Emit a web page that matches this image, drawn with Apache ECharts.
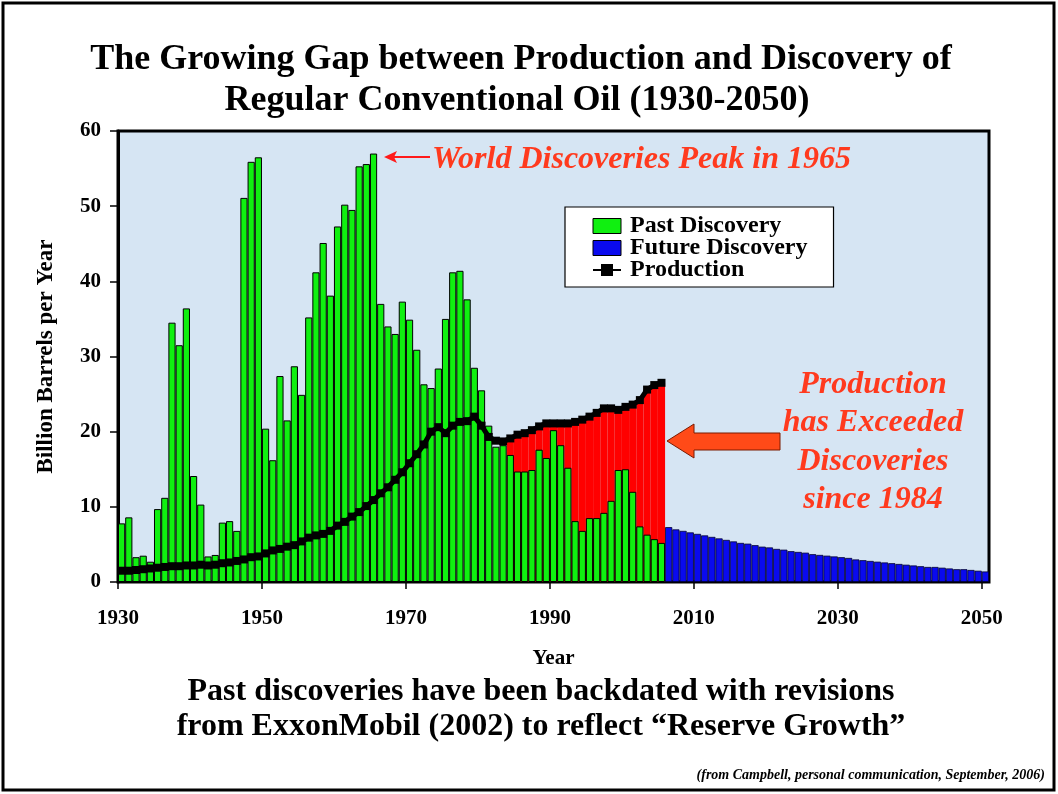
<!DOCTYPE html>
<html>
<head>
<meta charset="utf-8">
<script src="https://cdn.jsdelivr.net/npm/echarts@6/dist/echarts.min.js"></script>
<style>
html,body{margin:0;padding:0;background:#fff;}
#chart{width:1058px;height:794px;}
</style>
</head>
<body>
<div id="chart"></div>
<script>
// ---- DATA ----
var firstYear = 1930, lastYear = 2050;
var years = [];
for (var y = firstYear; y <= lastYear; y++) years.push(String(y));

// Past discovery 1930-2005 (billion barrels / year)
var pastDiscovery = [
  7.8, 8.6, 3.3, 3.5, 2.7, 9.7, 11.2, 34.5, 31.5, 36.4,      // 1930-1939
  14.1, 10.3, 3.4, 3.6, 7.9, 8.1, 6.8, 51.1, 55.9, 56.5,     // 1940-1949
  20.4, 16.2, 27.4, 21.5, 28.7, 24.9, 35.2, 41.2, 45.1, 38.1, // 1950-1959
  47.3, 50.2, 49.5, 55.3, 55.6, 57.0, 37.0, 34.0, 33.0, 37.3, // 1960-1969
  34.9, 30.9, 26.3, 25.8, 28.4, 35.0, 41.2, 41.4, 37.6, 28.5, // 1970-1979
  25.5, 20.8, 18.0, 18.2, 16.9, 14.7, 14.7, 14.9, 17.6, 16.5, // 1980-1989
  20.2, 18.2, 15.2, 8.1, 6.8, 8.5, 8.5, 9.2, 10.8, 14.9,      // 1990-1999
  15.0, 12.0, 7.4, 6.3, 5.7, 5.2                              // 2000-2005
];
// Future discovery 2006-2050
var futureDiscovery = [
  7.3, 7.0, 6.8, 6.6,                                         // 2006-2009
  6.4, 6.2, 6.0, 5.8, 5.6, 5.4, 5.2, 5.1, 4.9, 4.7,           // 2010-2019
  4.6, 4.4, 4.3, 4.1, 4.0, 3.9, 3.7, 3.6, 3.5, 3.4,           // 2020-2029
  3.3, 3.2, 3.0, 2.9, 2.8, 2.7, 2.6, 2.5, 2.4, 2.3,           // 2030-2039
  2.2, 2.1, 2.0, 2.0, 1.9, 1.8, 1.7, 1.7, 1.6, 1.5,           // 2040-2049
  1.4                                                         // 2050
];
// Production 1930-2005
var production = [
  1.5, 1.5, 1.6, 1.7, 1.8, 1.9, 2.0, 2.1, 2.1, 2.2,           // 1930-1939
  2.2, 2.3, 2.2, 2.3, 2.5, 2.6, 2.8, 3.0, 3.3, 3.4,           // 1940-1949
  3.8, 4.2, 4.4, 4.7, 4.9, 5.4, 5.9, 6.2, 6.4, 6.8,           // 1950-1959
  7.5, 8.0, 8.7, 9.3, 10.1, 10.9, 11.8, 12.6, 13.6, 14.6,     // 1960-1969
  15.8, 17.0, 18.3, 20.0, 20.6, 19.8, 20.8, 21.3, 21.4, 22.0, // 1970-1979
  20.8, 19.3, 18.8, 18.7, 19.1, 19.6, 19.8, 20.2, 20.7, 21.1, // 1980-1989
  21.1, 21.1, 21.1, 21.3, 21.6, 22.0, 22.5, 23.1, 23.1, 22.9, // 1990-1999
  23.3, 23.6, 24.2, 25.6, 26.2, 26.5                          // 2000-2005
];
var gapStartYear = 1984;  // production exceeds discoveries since
var yTicks = [0, 10, 20, 30, 40, 50, 60];
var xTickLabels = [1930, 1950, 1970, 1990, 2010, 2030, 2050];

// ---- series arrays aligned to years ----
function alignTo(startYear, arr) {
  var out = years.map(function () { return null; });
  for (var i = 0; i < arr.length; i++) out[startYear - firstYear + i] = arr[i];
  return out;
}
var pastArr = alignTo(1930, pastDiscovery);
var futureArr = alignTo(2006, futureDiscovery);
var prodArr = alignTo(1930, production);
var gapArr = prodArr.map(function (v, i) {
  return (firstYear + i >= gapStartYear) ? v : null;
});

var serif = '"Liberation Serif", "Times New Roman", serif';
var red = '#ff3a1e';

var chart = echarts.init(document.getElementById('chart'), null, {renderer: 'canvas'});
var option = {
  backgroundColor: '#ffffff',
  animation: false,
  grid: {
    left: 118, right: 69, top: 131, bottom: 212,
    show: true, backgroundColor: '#d6e5f3', borderColor: '#000', borderWidth: 3
  },
  legend: {
    orient: 'vertical', left: 565, top: 207,
    backgroundColor: '#ffffff', borderColor: '#000', borderWidth: 1.2, borderRadius: 0,
    padding: [7, 26, 5, 27],
    itemWidth: 28, itemHeight: 15, itemGap: -2,
    textStyle: {fontFamily: serif, fontWeight: 'bold', fontSize: 24, color: '#000', lineHeight: 20, padding: [0, 0, 0, 4]},
    data: [
      {name: 'Past Discovery', icon: 'rect', itemStyle: {borderColor: '#000', borderWidth: 1}},
      {name: 'Future Discovery', icon: 'rect', itemStyle: {borderColor: '#000', borderWidth: 1}},
      {name: 'Production'}
    ]
  },
  xAxis: [{
    type: 'category', data: years, boundaryGap: true,
    axisLine: {show: true, lineStyle: {color: '#000', width: 2}},
    axisTick: {show: false}, axisLabel: {show: false}, splitLine: {show: false}
  }, {
    type: 'value', min: firstYear, max: lastYear + 1, position: 'bottom',
    axisLine: {show: false},
    axisTick: {show: true, length: 7, customValues: xTickLabels, lineStyle: {color: '#000', width: 1.5}},
    axisLabel: {customValues: xTickLabels, margin: 26, fontFamily: serif, fontWeight: 'bold', fontSize: 21, color: '#000',
      formatter: function (v) { return String(v); }},
    splitLine: {show: false},
    name: 'Year', nameLocation: 'middle', nameGap: 66,
    nameTextStyle: {fontFamily: serif, fontWeight: 'bold', fontSize: 21, color: '#000'}
  }],
  yAxis: {
    type: 'value', min: 0, max: 60, interval: 10,
    axisLine: {show: true, lineStyle: {color: '#000', width: 3}},
    axisTick: {show: true, length: 8, inside: false, lineStyle: {color: '#000', width: 1.5}},
    axisLabel: {margin: 17, fontFamily: serif, fontWeight: 'bold', fontSize: 21, color: '#000',
      customValues: yTicks},
    splitLine: {show: false},
    name: 'Billion Barrels per Year', nameLocation: 'middle', nameGap: 60, nameRotate: 90,
    nameTextStyle: {fontFamily: serif, fontWeight: 'bold', fontSize: 23, color: '#000'}
  },
  series: [
    {
      name: 'Gap', type: 'bar', data: gapArr, barGap: '-100%', barCategoryGap: '0%',
      itemStyle: {color: '#ff0000'}, z: 1, legendHoverLink: false
    },
    {
      name: 'Past Discovery', type: 'bar', data: pastArr, barGap: '-100%', barCategoryGap: '0%',
      itemStyle: {color: '#10f010', borderColor: '#000', borderWidth: 1}, z: 2
    },
    {
      name: 'Future Discovery', type: 'bar', data: futureArr, barGap: '-100%', barCategoryGap: '0%',
      itemStyle: {color: '#0a0aee', borderColor: '#000030', borderWidth: 0.8}, z: 2
    },
    {
      name: 'Production', type: 'line', data: prodArr, connectNulls: false,
      symbol: 'rect', symbolSize: 8, showSymbol: true, showAllSymbol: true,
      lineStyle: {color: '#000', width: 5}, itemStyle: {color: '#000'}, z: 5
    }
  ],
  graphic: [
    {type: 'rect', shape: {x: 3, y: 3, width: 1051, height: 787},
      style: {fill: 'none', stroke: '#000', lineWidth: 3}, silent: true},
    {type: 'text', x: 521, y: 60, style: {text: 'The Growing Gap between Production and Discovery of',
      font: 'bold 36px ' + serif, fill: '#000', align: 'center', verticalAlign: 'middle'}},
    {type: 'text', x: 517, y: 101, style: {text: 'Regular Conventional Oil (1930-2050)',
      font: 'bold 36px ' + serif, fill: '#000', align: 'center', verticalAlign: 'middle'}},
    {type: 'text', x: 541, y: 692, style: {text: 'Past discoveries have been backdated with revisions',
      font: 'bold 32px ' + serif, fill: '#000', align: 'center', verticalAlign: 'middle'}},
    {type: 'text', x: 541, y: 727, style: {text: 'from ExxonMobil (2002) to reflect \u201cReserve Growth\u201d',
      font: 'bold 32px ' + serif, fill: '#000', align: 'center', verticalAlign: 'middle'}},
    {type: 'text', x: 1045, y: 775, style: {text: '(from Campbell, personal communication, September, 2006)',
      font: 'italic bold 14px ' + serif, fill: '#000', align: 'right', verticalAlign: 'middle'}},
    {type: 'text', x: 432, y: 160, style: {text: 'World Discoveries Peak in 1965',
      font: 'italic bold 32px ' + serif, fill: red, align: 'left', verticalAlign: 'middle'}},
    {type: 'line', shape: {x1: 430, y1: 157, x2: 392, y2: 157}, style: {stroke: '#ff1a1a', lineWidth: 2}},
    {type: 'polygon', shape: {points: [[384, 157], [397, 151], [394, 157], [397, 163]]},
      style: {fill: '#ff1a1a'}},
    {type: 'polygon', shape: {points: [[667, 441], [694, 424], [694, 433], [780, 433], [780, 450], [694, 450], [694, 458]]},
      style: {fill: '#ff4a18', stroke: '#7a1a00', lineWidth: 1}},
    {type: 'text', x: 873, y: 385, style: {text: 'Production', font: 'italic bold 32px ' + serif, fill: red, align: 'center', verticalAlign: 'middle'}},
    {type: 'text', x: 873, y: 423, style: {text: 'has Exceeded', font: 'italic bold 32px ' + serif, fill: red, align: 'center', verticalAlign: 'middle'}},
    {type: 'text', x: 873, y: 462, style: {text: 'Discoveries', font: 'italic bold 32px ' + serif, fill: red, align: 'center', verticalAlign: 'middle'}},
    {type: 'text', x: 873, y: 500, style: {text: 'since 1984', font: 'italic bold 32px ' + serif, fill: red, align: 'center', verticalAlign: 'middle'}}
  ]
};
chart.setOption(option);
</script>
</body>
</html>
